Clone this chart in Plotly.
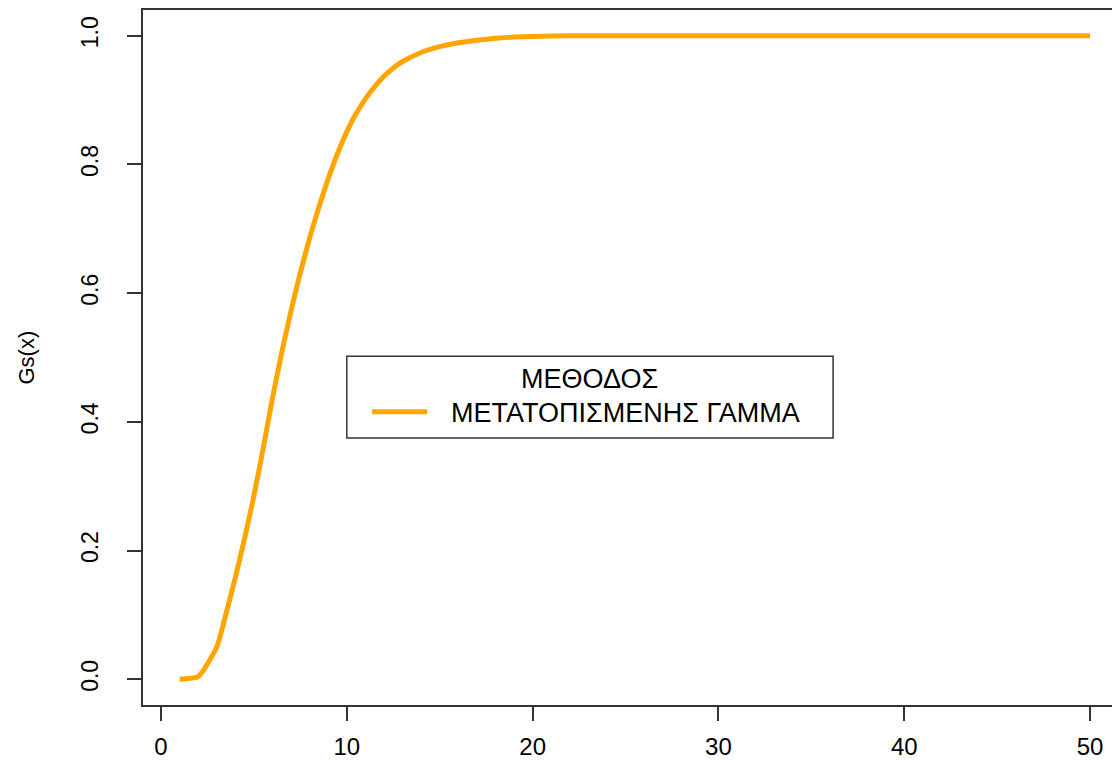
import plotly.graph_objects as go

# Data
x_vals = [1.0, 2.0, 3.0, 3.5, 4.0, 4.5, 5.0, 5.5, 6.0, 6.5, 7.0, 7.5, 8.0, 8.5, 9.0,
          9.5, 10.0, 10.5, 11.0, 11.5, 12.0, 12.5, 13.0, 14.0, 15.0, 16.0, 17.0, 18.0,
          19.0, 20.0, 22.0, 30.0, 40.0, 50.0]
gs_vals = [0.000, 0.004, 0.050, 0.102, 0.158, 0.219, 0.285, 0.359, 0.437, 0.508, 0.573,
           0.632, 0.686, 0.734, 0.778, 0.817, 0.851, 0.879, 0.902, 0.921, 0.937, 0.950,
           0.960, 0.974, 0.983, 0.989, 0.993, 0.996, 0.998, 0.999, 1.000, 1.000, 1.000,
           1.000]

x_ticks = [0, 10, 20, 30, 40, 50]
y_ticks = [0.0, 0.2, 0.4, 0.6, 0.8, 1.0]
y_title = "Gs(x)"
legend_title = "ΜΕΘΟΔΟΣ"
series_name = "ΜΕΤΑΤΟΠΙΣΜΕΝΗΣ ΓΑΜΜΑ"
line_color = "#FFA500"
frame_color = "#333333"
font_family = "Liberation Sans, Arial, sans-serif"

fig = go.Figure()
fig.add_trace(go.Scatter(x=x_vals, y=gs_vals, mode="lines", name=series_name,
                         line=dict(color=line_color, width=5, shape="spline", smoothing=0.5),
                         showlegend=False))

# Manual R-style legend (anchored at data coords x=10, y=0.5)
leg_x0, leg_x1 = 10.0, 36.17
leg_y0, leg_y1 = 0.375, 0.502
fig.add_shape(type="rect", xref="x", yref="y", x0=leg_x0, x1=leg_x1, y0=leg_y0, y1=leg_y1,
              line=dict(color=frame_color, width=1.5), fillcolor="white", layer="above")
fig.add_shape(type="line", xref="x", yref="y", x0=11.36, x1=14.32, y0=0.4156, y1=0.4156,
              line=dict(color=line_color, width=5), layer="above")
fig.add_annotation(xref="x", yref="y", x=(leg_x0 + leg_x1) / 2, y=0.467, text=legend_title,
                   showarrow=False, xanchor="center", yanchor="middle",
                   font=dict(family=font_family, size=27, color="#000000"))
fig.add_annotation(xref="x", yref="y", x=15.5, y=0.414, text=series_name,
                   showarrow=False, xanchor="left", yanchor="middle",
                   font=dict(family=font_family, size=27, color="#000000"))

# y-axis title
fig.add_annotation(xref="paper", yref="paper", x=(26 - 143) / 977, y=0.5, text=y_title,
                   textangle=-90, showarrow=False, xanchor="center", yanchor="middle",
                   font=dict(family=font_family, size=22, color="#000000"))

# The page body adds an 8px margin, so the figure is 8px smaller and margins shifted.
fig.update_layout(
    width=1112, height=752,
    margin=dict(l=135, r=0, t=1, b=54),
    paper_bgcolor="white", plot_bgcolor="white",
    font=dict(family=font_family, color="#000000"),
)
fig.update_xaxes(range=[-0.969, 51.61], tickvals=x_ticks, ticks="outside", ticklen=14,
                 tickwidth=1.5, tickcolor=frame_color, showline=True, mirror=True,
                 linecolor=frame_color, linewidth=1.5, showgrid=False, zeroline=False,
                 tickfont=dict(size=24, family=font_family), ticklabelstandoff=5)
fig.update_yaxes(range=[-0.04, 1.04], tickvals=y_ticks, tickformat=".1f", ticks="outside",
                 ticklen=14, tickwidth=1.5, tickcolor=frame_color, showline=True,
                 mirror=False, linecolor=frame_color, linewidth=1.5, showgrid=False,
                 zeroline=False, tickangle=-90,
                 tickfont=dict(size=23, family=font_family), ticklabelstandoff=20)

fig.write_html("out.html")
